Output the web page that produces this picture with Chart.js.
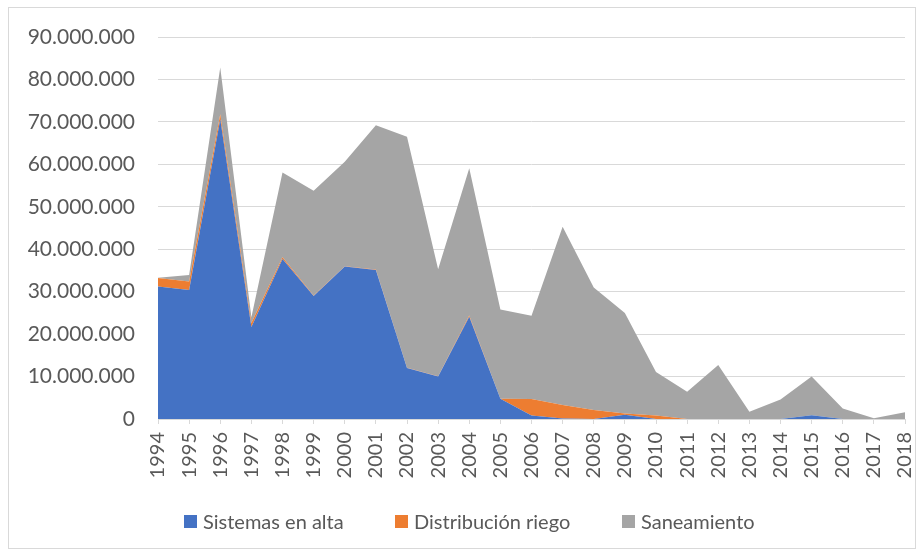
<!DOCTYPE html>
<html>
<head>
<meta charset="utf-8">
<script src="https://cdn.jsdelivr.net/npm/chart.js@4"></script>
<style>
  body { margin: 0; background: #fff; font-family: Lato, "Liberation Sans", sans-serif; }
  #wrap { position: relative; width: 923px; height: 555px; }
  #frame { position: absolute; left: 8px; top: 7px; width: 906px; height: 540px; border: 1px solid #d9d9d9; }
  #chartBox { position: absolute; left: 0; top: 0; width: 923px; height: 555px; }
  .legend-item { position: absolute; top: 509px; display: flex; align-items: center; font-size: 20px; color: #595959; white-space: nowrap; }
  .legend-item i { display: inline-block; width: 13px; height: 13px; margin-right: 6px; }
</style>
</head>
<body>
<div id="wrap">
  <div id="frame"></div>
  <div id="chartBox"><canvas id="areaChart"></canvas></div>
  <div class="legend-item" style="left:184px"><i style="background:#4472c4"></i>Sistemas en alta</div>
  <div class="legend-item" style="left:395px"><i style="background:#ed7d31"></i>Distribución riego</div>
  <div class="legend-item" style="left:622px"><i style="background:#a5a5a5"></i>Saneamiento</div>
</div>
<script>
const years = ["1994", "1995", "1996", "1997", "1998", "1999", "2000", "2001", "2002", "2003", "2004", "2005",
  "2006", "2007", "2008", "2009", "2010", "2011", "2012", "2013", "2014", "2015", "2016", "2017", "2018"];

const sistemasEnAlta = [31200000, 30400000, 70600000, 21700000, 37700000, 29000000, 35900000, 35100000,
  12000000, 10000000, 24100000, 4800000, 800000, 100000, 0, 1000000, 0, 0, 0, 0, 0, 900000, 0, 0, 0];

const distribucionRiego = [2000000, 2000000, 1200000, 900000, 400000, 100000, 100000, 100000,
  100000, 100000, 300000, 0, 3900000, 3200000, 2100000, 300000, 800000, 0, 0, 0, 0, 0, 0, 0, 0];

const saneamiento = [100000, 1500000, 11000000, 1400000, 20000000, 24700000, 24600000, 34000000,
  54400000, 25200000, 34700000, 21000000, 19600000, 42000000, 28900000, 23700000, 10300000, 6400000,
  12700000, 1700000, 4600000, 9100000, 2500000, 200000, 1600000];

const yTicks = [0, 10000000, 20000000, 30000000, 40000000, 50000000, 60000000, 70000000, 80000000, 90000000];

function formatMiles(value) {
  return String(value).replace(/\B(?=(\d{3})+(?!\d))/g, ".");
}

function areaSet(label, data, color, fill) {
  return {
    label,
    data,
    backgroundColor: color,
    borderColor: color,
    borderWidth: 0,
    pointRadius: 0,
    fill,
    tension: 0
  };
}

Chart.defaults.font.family = "Lato, 'Liberation Sans', sans-serif";
Chart.defaults.font.size = 20;
Chart.defaults.color = "#595959";

new Chart(document.getElementById("areaChart"), {
  type: "line",
  data: {
    labels: years,
    datasets: [
      areaSet("Sistemas en alta", sistemasEnAlta, "#4472c4", "origin"),
      areaSet("Distribución riego", distribucionRiego, "#ed7d31", "-1"),
      areaSet("Saneamiento", saneamiento, "#a5a5a5", "-1")
    ]
  },
  options: {
    responsive: true,
    maintainAspectRatio: false,
    animation: false,
    layout: {
      padding: { left: 0, top: 37, right: 18, bottom: 0 }
    },
    plugins: {
      legend: { display: false },
      tooltip: { enabled: false }
    },
    scales: {
      x: {
        offset: false,
        grid: {
          offset: false,
          drawOnChartArea: false,
          drawTicks: true,
          tickLength: 5,
          color: "#d9d9d9"
        },
        border: { color: "#d9d9d9" },
        ticks: {
          autoSkip: false,
          minRotation: 90,
          maxRotation: 90,
          padding: 8
        },
        afterFit(scale) {
          scale.height = 136;
          scale.paddingLeft = 0;
          scale.paddingRight = 0;
        }
      },
      y: {
        stacked: true,
        min: 0,
        max: 90000000,
        afterBuildTicks(scale) {
          scale.ticks = yTicks.map((value) => ({ value }));
        },
        grid: {
          color: "#d9d9d9",
          drawTicks: false
        },
        border: { display: false },
        ticks: {
          padding: 23,
          font: { size: 21 },
          callback(value) {
            return formatMiles(value);
          }
        },
        afterFit(scale) {
          scale.width = 158;
        }
      }
    }
  }
});
</script>
</body>
</html>
